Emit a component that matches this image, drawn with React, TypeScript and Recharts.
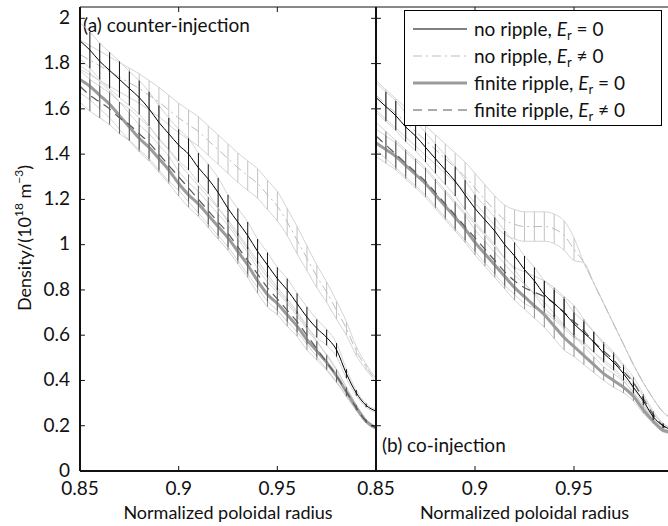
import React from 'react';
import { LineChart, Line, XAxis, YAxis, ErrorBar, Legend, Customized, ReferenceLine } from 'recharts';

// ---------- data ----------
const radius = [0.85, 0.855, 0.86, 0.865, 0.87, 0.875, 0.88, 0.885, 0.89, 0.895,
  0.9, 0.905, 0.91, 0.915, 0.92, 0.925, 0.93, 0.935, 0.94, 0.945,
  0.95, 0.955, 0.96, 0.965, 0.97, 0.975, 0.98, 0.985, 0.99, 0.995, 1.0];

// (a) counter-injection
const aNoRippleEr0 = [1.90, 1.86, 1.81, 1.77, 1.73, 1.69, 1.65, 1.60, 1.54, 1.49,
  1.44, 1.40, 1.34, 1.29, 1.23, 1.16, 1.10, 1.04, 0.97, 0.91,
  0.85, 0.80, 0.74, 0.68, 0.63, 0.59, 0.535, 0.43, 0.345, 0.29, 0.265];
const aNoRippleEr0Err = [0.08, 0.08, 0.08, 0.08, 0.08, 0.075, 0.075, 0.075, 0.075, 0.07,
  0.07, 0.07, 0.065, 0.065, 0.065, 0.06, 0.06, 0.06, 0.055, 0.055,
  0.05, 0.05, 0.045, 0.045, 0.04, 0.035, 0.03, 0.02, 0.012, 0.008, 0.006];
const aNoRippleErN = [1.84, 1.815, 1.79, 1.765, 1.74, 1.715, 1.69, 1.66, 1.63, 1.595,
  1.56, 1.53, 1.50, 1.46, 1.42, 1.38, 1.34, 1.305, 1.27, 1.22,
  1.17, 1.10, 1.02, 0.94, 0.86, 0.79, 0.71, 0.63, 0.53, 0.46, 0.40];
const aNoRippleErNErr = [0.065, 0.065, 0.065, 0.065, 0.065, 0.065, 0.065, 0.065, 0.065, 0.065,
  0.065, 0.065, 0.065, 0.065, 0.065, 0.065, 0.065, 0.065, 0.065, 0.065,
  0.065, 0.06, 0.06, 0.055, 0.05, 0.045, 0.04, 0.03, 0.02, 0.012, 0.008];
const aFiniteEr0 = [1.73, 1.70, 1.66, 1.62, 1.57, 1.52, 1.47, 1.43, 1.38, 1.33,
  1.27, 1.22, 1.18, 1.13, 1.08, 1.03, 0.97, 0.91, 0.84, 0.78,
  0.74, 0.69, 0.64, 0.58, 0.53, 0.48, 0.42, 0.35, 0.28, 0.22, 0.19];
const aFiniteEr0Err = [0.06, 0.06, 0.06, 0.06, 0.06, 0.06, 0.06, 0.06, 0.06, 0.06,
  0.055, 0.055, 0.055, 0.055, 0.055, 0.055, 0.055, 0.055, 0.055, 0.055,
  0.05, 0.05, 0.045, 0.045, 0.04, 0.035, 0.03, 0.02, 0.012, 0.008, 0.006];
const aFiniteErN = [1.70, 1.66, 1.63, 1.60, 1.56, 1.53, 1.49, 1.45, 1.40, 1.35,
  1.30, 1.25, 1.20, 1.15, 1.10, 1.05, 0.99, 0.93, 0.87, 0.81,
  0.76, 0.71, 0.66, 0.60, 0.54, 0.48, 0.42, 0.35, 0.28, 0.22, 0.19];
const aFiniteErNErr = [0.07, 0.07, 0.07, 0.07, 0.07, 0.07, 0.07, 0.07, 0.07, 0.07,
  0.06, 0.06, 0.06, 0.06, 0.06, 0.06, 0.06, 0.06, 0.06, 0.06,
  0.05, 0.05, 0.045, 0.04, 0.035, 0.03, 0.025, 0.02, 0.012, 0.008, 0.006];

// (b) co-injection
const bNoRippleEr0 = [1.65, 1.61, 1.57, 1.52, 1.48, 1.43, 1.38, 1.33, 1.28, 1.22,
  1.16, 1.11, 1.06, 1.00, 0.95, 0.89, 0.84, 0.78, 0.74, 0.70,
  0.65, 0.61, 0.57, 0.52, 0.48, 0.43, 0.37, 0.31, 0.24, 0.20, 0.18];
const bNoRippleEr0Err = [0.065, 0.065, 0.065, 0.065, 0.065, 0.065, 0.065, 0.065, 0.065, 0.065,
  0.06, 0.06, 0.06, 0.06, 0.06, 0.06, 0.06, 0.06, 0.06, 0.06,
  0.05, 0.05, 0.045, 0.04, 0.035, 0.03, 0.025, 0.02, 0.015, 0.01, 0.008];
const bNoRippleErN = [1.66, 1.62, 1.58, 1.54, 1.50, 1.46, 1.42, 1.38, 1.34, 1.30,
  1.25, 1.20, 1.15, 1.11, 1.09, 1.08, 1.08, 1.08, 1.07, 1.04,
  0.98, 0.92, 0.83, 0.74, 0.65, 0.56, 0.47, 0.39, 0.32, 0.26, 0.23];
const bNoRippleErNErr = [0.065, 0.065, 0.065, 0.065, 0.065, 0.065, 0.065, 0.065, 0.065, 0.065,
  0.065, 0.065, 0.065, 0.065, 0.065, 0.065, 0.065, 0.065, 0.065, 0.065,
  0.05, 0, 0, 0, 0, 0, 0, 0, 0, 0, 0];
const bFiniteEr0 = [1.45, 1.42, 1.39, 1.35, 1.31, 1.27, 1.22, 1.17, 1.12, 1.07,
  1.01, 0.96, 0.91, 0.86, 0.81, 0.77, 0.73, 0.69, 0.64, 0.59,
  0.55, 0.51, 0.47, 0.43, 0.40, 0.37, 0.33, 0.27, 0.22, 0.18, 0.17];
const bFiniteEr0Err = [0.06, 0.06, 0.06, 0.06, 0.06, 0.06, 0.06, 0.06, 0.06, 0.06,
  0.055, 0.055, 0.055, 0.055, 0.055, 0.055, 0.055, 0.055, 0.055, 0.055,
  0.045, 0.04, 0.035, 0.03, 0.03, 0.025, 0.02, 0.015, 0.01, 0.008, 0.006];
const bFiniteErN = [1.48, 1.44, 1.40, 1.36, 1.32, 1.28, 1.23, 1.18, 1.13, 1.08,
  1.03, 0.98, 0.93, 0.88, 0.84, 0.81, 0.79, 0.77, 0.74, 0.70,
  0.66, 0.62, 0.57, 0.53, 0.49, 0.44, 0.39, 0.32, 0.25, 0.20, 0.18];
const bFiniteErNErr = [0.06, 0.06, 0.06, 0.06, 0.06, 0.06, 0.06, 0.06, 0.06, 0.06,
  0.06, 0.06, 0.06, 0.06, 0.06, 0.07, 0.07, 0.07, 0.07, 0.07,
  0.07, 0.05, 0.045, 0.04, 0.035, 0.03, 0.025, 0.02, 0.015, 0.01, 0.008];

const xTicks = [0.85, 0.9, 0.95, 1];
const xTickLabels = ['0.85', '0.9', '0.95', ''];
const yTicks = [0, 0.2, 0.4, 0.6, 0.8, 1, 1.2, 1.4, 1.6, 1.8, 2];
const yTickLabels = ['0', '0.2', '0.4', '0.6', '0.8', '1', '1.2', '1.4', '1.6', '1.8', '2'];
const xDomain = [0.85, 1];
const yDomain = [0, 2.05];
const panelTitles = ['(a) counter-injection', '(b) co-injection'];
const xAxisTitle = 'Normalized poloidal radius';
const seriesKeys = ['nr0', 'nr1', 'fr0', 'fr1'];
const legendNames = ['no ripple, ', 'no ripple, ', 'finite ripple, ', 'finite ripple, '];
const legendRelations = ['=', '≠', '=', '≠'];

// ---------- styles ----------
const FONT = 'Lato, "Liberation Sans", sans-serif';
const seriesStyle: Record<string, any> = {
  nr0: { stroke: '#000000', width: 1, dash: undefined, bar: '#111111' },
  nr1: { stroke: '#bdbdbd', width: 1, dash: '9 4 2 4', bar: '#c2c2c2' },
  fr0: { stroke: '#9b9b9b', width: 3, dash: undefined, bar: '#8f8f8f' },
  fr1: { stroke: '#595959', width: 1.2, dash: '9 6', bar: '#5f5f5f' },
};
const drawOrder = ['nr1', 'fr0', 'fr1', 'nr0'];
const TICK_X = 0.0025; // inward tick length in x units (~5px)
const TICK_Y = 0.022;  // inward tick length in y units (~5px)

function buildRows(vals: number[][], errs: number[][]) {
  return radius.map((r, i) => {
    const row: any = { r };
    seriesKeys.forEach((k, j) => {
      row[k] = vals[j][i];
      row[k + 'E'] = errs[j][i];
      row[k + 'Hi'] = vals[j][i] + errs[j][i];
      row[k + 'Lo'] = vals[j][i] - errs[j][i];
    });
    return row;
  });
}

const rowsA = buildRows(
  [aNoRippleEr0, aNoRippleErN, aFiniteEr0, aFiniteErN],
  [aNoRippleEr0Err, aNoRippleErNErr, aFiniteEr0Err, aFiniteErNErr]
);
const rowsB = buildRows(
  [bNoRippleEr0, bNoRippleErN, bFiniteEr0, bFiniteErN],
  [bNoRippleEr0Err, bNoRippleErNErr, bFiniteEr0Err, bFiniteErNErr]
);

// ---------- ticks (labels only) ----------
const BottomTick = (p: any) => {
  const idx = xTicks.indexOf(p.payload.value);
  return (
    <text x={p.x} y={p.y + 24} textAnchor="middle" fontFamily={FONT} fontSize={19} fill="#111">
      {idx >= 0 ? xTickLabels[idx] : ''}
    </text>
  );
};
const LeftTickLabeled = (p: any) => {
  const idx = yTicks.indexOf(p.payload.value);
  return (
    <text x={p.x - 10} y={p.y - 1} dy="0.36em" textAnchor="end" fontFamily={FONT} fontSize={19} fill="#111">
      {idx >= 0 ? yTickLabels[idx] : ''}
    </text>
  );
};

// ---------- frame + inward ticks as reference lines ----------
function frame() {
  const common = { xAxisId: 'b', yAxisId: 'l', ifOverflow: 'visible' as const };
  const els: any[] = [
    <ReferenceLine key="fl" {...common} segment={[{ x: xDomain[0], y: yDomain[0] }, { x: xDomain[0], y: yDomain[1] }]} stroke="#111" strokeWidth={2} />,
    <ReferenceLine key="fr" {...common} segment={[{ x: xDomain[1], y: yDomain[0] }, { x: xDomain[1], y: yDomain[1] }]} stroke="#111" strokeWidth={1.5} />,
    <ReferenceLine key="fb" {...common} segment={[{ x: xDomain[0], y: yDomain[0] }, { x: xDomain[1], y: yDomain[0] }]} stroke="#111" strokeWidth={2} />,
    <ReferenceLine key="ft" {...common} segment={[{ x: xDomain[0], y: yDomain[1] }, { x: xDomain[1], y: yDomain[1] }]} stroke="#111" strokeWidth={1} />,
  ];
  xTicks.forEach((t) => {
    els.push(<ReferenceLine key={'xb' + t} {...common} segment={[{ x: t, y: yDomain[0] }, { x: t, y: yDomain[0] + TICK_Y }]} stroke="#111" strokeWidth={1} />);
    els.push(<ReferenceLine key={'xt' + t} {...common} segment={[{ x: t, y: yDomain[1] }, { x: t, y: yDomain[1] - TICK_Y }]} stroke="#111" strokeWidth={1} />);
  });
  yTicks.forEach((t) => {
    els.push(<ReferenceLine key={'yl' + t} {...common} segment={[{ x: xDomain[0], y: t }, { x: xDomain[0] + TICK_X, y: t }]} stroke="#111" strokeWidth={1} />);
    els.push(<ReferenceLine key={'yr' + t} {...common} segment={[{ x: xDomain[1], y: t }, { x: xDomain[1] - TICK_X, y: t }]} stroke="#111" strokeWidth={1} />);
  });
  return els;
}

// ---------- legend ----------
const LegendBox = () => (
  <div style={{
    border: '1px solid #000', background: '#fff', width: 258, height: 116, boxSizing: 'border-box',
    fontFamily: FONT, fontSize: 19, color: '#111', paddingTop: 4,
  }}>
    {seriesKeys.map((k, i) => {
      const st = seriesStyle[k];
      return (
        <div key={k} style={{ height: 27, display: 'flex', alignItems: 'center' }}>
          <svg width={66} height={10} style={{ flex: 'none' }}>
            <line x1={8} x2={62} y1={5} y2={5} stroke={st.stroke} strokeWidth={st.width} strokeDasharray={st.dash} />
          </svg>
          <span style={{ marginLeft: 3, whiteSpace: 'nowrap' }}>
            {legendNames[i]}
            <i style={{ fontSize: 19 }}>E</i>
            <span style={{ fontSize: 13, position: 'relative', top: 4 }}>r</span>
            {' ' + legendRelations[i] + ' 0'}
          </span>
        </div>
      );
    })}
  </div>
);

function seriesLines() {
  const bounds = drawOrder.flatMap((k) => [
    <Line key={k + 'Hi'} dataKey={k + 'Hi'} xAxisId="b" yAxisId="l" type="monotone" stroke="#cfcfcf"
      strokeWidth={0.9} dot={false} activeDot={false} isAnimationActive={false} legendType="none" />,
    <Line key={k + 'Lo'} dataKey={k + 'Lo'} xAxisId="b" yAxisId="l" type="monotone" stroke="#cfcfcf"
      strokeWidth={0.9} dot={false} activeDot={false} isAnimationActive={false} legendType="none" />,
  ]);
  const mains = drawOrder.map((k) => {
    const st = seriesStyle[k];
    return (
      <Line key={k} dataKey={k} xAxisId="b" yAxisId="l" type="monotone" stroke={st.stroke}
        strokeWidth={st.width} strokeDasharray={st.dash} dot={false} activeDot={false} isAnimationActive={false}>
        <ErrorBar dataKey={k + 'E'} width={0} stroke={st.bar} strokeWidth={1} direction="y" />
      </Line>
    );
  });
  return [...bounds, ...mains];
}

function axes(showYLabels: boolean, yWidth: number) {
  return [
    <XAxis key="xb" xAxisId="b" dataKey="r" type="number" domain={xDomain} ticks={xTicks} interval={0}
      height={55} tickSize={0} tickMargin={0} tickLine={false} tick={BottomTick}
      axisLine={{ stroke: '#111', strokeWidth: 2 }}
      label={{ value: xAxisTitle, position: 'insideBottom', offset: 7, style: { fontFamily: FONT, fontSize: 18, fill: '#111' } }} />,
    <YAxis key="yl" yAxisId="l" type="number" domain={yDomain} ticks={yTicks} interval={0}
      width={yWidth} tickSize={0} tickMargin={0} tickLine={false} tick={showYLabels ? LeftTickLabeled : false}
      axisLine={{ stroke: '#111', strokeWidth: 2 }} />,
  ];
}

const YTitle = () => (
  <text transform="translate(31, 238) rotate(-90)" textAnchor="middle" fontFamily={FONT} fontSize={18} fill="#111">
    Density/(10<tspan fontSize={12} dy={-8}>18</tspan><tspan dy={8}> m</tspan>
    <tspan fontSize={12} dy={-8}>−3</tspan><tspan dy={8}>)</tspan>
  </text>
);

export default function App() {
  return (
    <div style={{ position: 'absolute', left: 0, top: 0, width: 668, height: 526, overflow: 'hidden', background: '#fff' }}>
      <div style={{ position: 'absolute', left: 0, top: 0 }}>
        <LineChart width={379} height={526} data={rowsA} margin={{ top: 7, right: 3, bottom: 0, left: 0 }}>
          {axes(true, 80)}
          {seriesLines()}
          {frame()}
          <Customized component={() => (
            <g>
              <text x={83} y={32} fontFamily={FONT} fontSize={19} fill="#111">{panelTitles[0]}</text>
              <YTitle />
            </g>
          )} />
        </LineChart>
      </div>
      <div style={{ position: 'absolute', left: 336, top: 0 }}>
        <LineChart width={340} height={526} data={rowsB} margin={{ top: 7, right: 3, bottom: 0, left: 40 }}>
          {axes(false, 0)}
          {seriesLines()}
          {frame()}
          <Customized component={() => (
            <text x={46} y={452} fontFamily={FONT} fontSize={19} fill="#111">{panelTitles[1]}</text>
          )} />
          <Legend layout="vertical" align="center" verticalAlign="middle" content={() => <LegendBox />}
            wrapperStyle={{ left: 68, top: 10, width: 258, height: 116 }} />
        </LineChart>
      </div>
    </div>
  );
}
